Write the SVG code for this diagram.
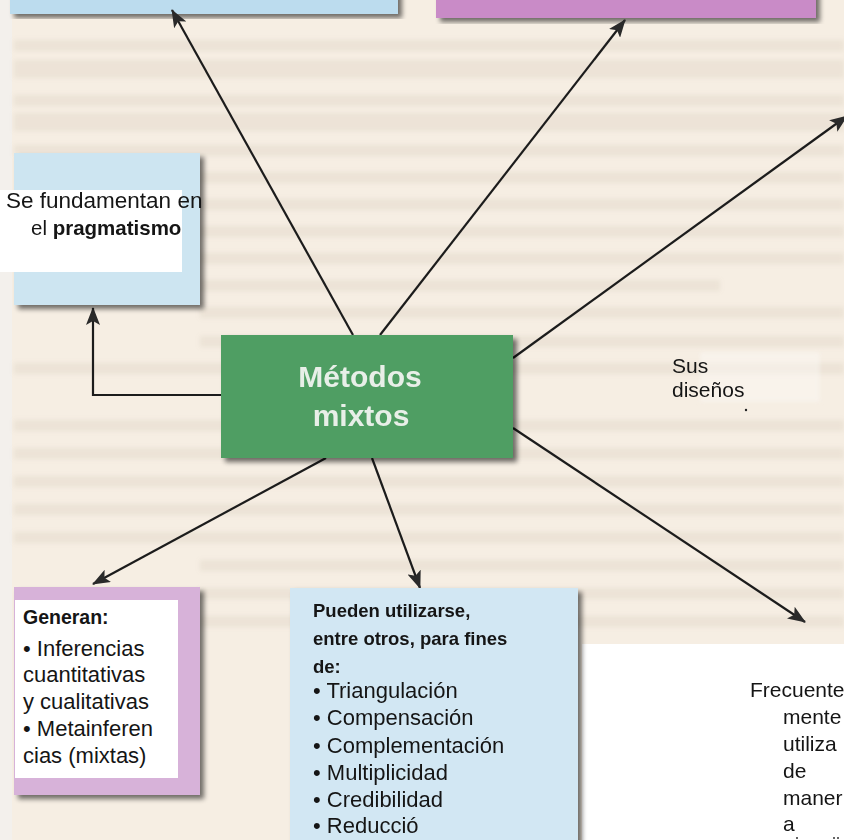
<svg xmlns="http://www.w3.org/2000/svg" width="844" height="840" viewBox="0 0 844 840">
<defs>
<style>
.t{font-family:"Liberation Sans",Arial,sans-serif;fill:#151515}
.b{font-weight:bold}
.line{stroke:#1c1c1c;stroke-width:2.2;fill:none}
.bg{fill:#cdbfae;opacity:0.22}
</style>
<filter id="sh" x="-10%" y="-10%" width="130%" height="130%">
<feGaussianBlur in="SourceAlpha" stdDeviation="2.5"/>
<feOffset dx="4" dy="4" result="o"/>
<feComponentTransfer><feFuncA type="linear" slope="0.55"/></feComponentTransfer>
<feMerge><feMergeNode/><feMergeNode in="SourceGraphic"/></feMerge>
</filter>
<filter id="soft" x="-5%" y="-50%" width="110%" height="200%">
<feGaussianBlur stdDeviation="2"/>
</filter>
<marker id="ah" viewBox="0 0 18 14" refX="17" refY="7" markerWidth="18" markerHeight="14" markerUnits="userSpaceOnUse" orient="auto">
<path d="M0,0 L18,7 L0,14 L4,7 Z" fill="#2a2a2a"/>
</marker>
</defs>
<rect width="844" height="840" fill="#f6eee3"/>
<rect x="0" y="0" width="12" height="840" fill="#f3f0ec"/>
<g id="page-lines" filter="url(#soft)">
<rect class="bg" x="14" y="40" width="830" height="11"/>
<rect class="bg" x="14" y="60" width="830" height="18" opacity="0.3"/>
<rect class="bg" x="14" y="95" width="830" height="11"/>
<rect class="bg" x="14" y="113" width="830" height="18" opacity="0.3"/>
<rect class="bg" x="14" y="145" width="830" height="11"/>
<rect class="bg" x="200" y="172" width="644" height="11"/>
<rect class="bg" x="200" y="199" width="644" height="11"/>
<rect class="bg" x="200" y="226" width="644" height="11"/>
<rect class="bg" x="200" y="253" width="644" height="11"/>
<rect class="bg" x="200" y="280" width="520" height="11"/>
<rect class="bg" x="200" y="307" width="644" height="11"/>
<rect class="bg" x="200" y="336" width="644" height="11"/>
<rect class="bg" x="14" y="363" width="830" height="11"/>
<rect class="bg" x="14" y="420" width="830" height="11"/>
<rect class="bg" x="14" y="448" width="830" height="11"/>
<rect class="bg" x="14" y="476" width="830" height="11"/>
<rect class="bg" x="14" y="504" width="830" height="11"/>
<rect class="bg" x="14" y="532" width="830" height="11"/>
<rect class="bg" x="200" y="560" width="644" height="11"/>
<rect class="bg" x="200" y="588" width="644" height="11"/>
<rect class="bg" x="200" y="616" width="644" height="11"/>
</g>
<rect x="582" y="644" width="262" height="196" fill="#ffffff"/>
<rect x="700" y="352" width="120" height="50" fill="#fbf8f4" opacity="0.5" filter="url(#soft)"/>

<g id="top-left-box">
<rect x="10" y="-10" width="388" height="24" fill="#bcdcee" filter="url(#sh)"/>
</g>
<g id="top-right-box">
<rect x="436" y="-10" width="380" height="28" fill="#c98bc7" filter="url(#sh)"/>
</g>

<g id="connectors">
<line class="line" x1="353" y1="335" x2="172" y2="10" marker-end="url(#ah)"/>
<line class="line" x1="380" y1="335" x2="625" y2="20" marker-end="url(#ah)"/>
<line class="line" x1="513" y1="358" x2="847" y2="116" marker-end="url(#ah)"/>
<polyline class="line" points="221,395 93,395 93,308" marker-end="url(#ah)"/>
<line class="line" x1="513" y1="428" x2="805" y2="622" marker-end="url(#ah)"/>
<line class="line" x1="326" y1="458" x2="93" y2="584" marker-end="url(#ah)"/>
<line class="line" x1="372" y1="458" x2="420" y2="588" marker-end="url(#ah)"/>
</g>

<g id="pragmatismo">
<rect x="14" y="153" width="186" height="152" fill="#cde5f1" filter="url(#sh)"/>
<rect x="0" y="190" width="182" height="82" fill="#ffffff"/>
<text class="t" x="6" y="208" font-size="22.5">Se fundamentan en</text>
<text class="t" x="31" y="235" font-size="20.5">el <tspan class="b">pragmatismo</tspan></text>
</g>

<g id="metodos-mixtos">
<rect x="221" y="335" width="292" height="123" fill="#4f9e64" filter="url(#sh)"/>
<text class="t b" x="360" y="387" font-size="30" text-anchor="middle" style="fill:#e8efe8">Métodos</text>
<text class="t b" x="361" y="426" font-size="30" text-anchor="middle" style="fill:#e8efe8">mixtos</text>
</g>

<g id="sus-disenos">
<text class="t" x="672" y="373" font-size="21">Sus</text>
<text class="t" x="672" y="397" font-size="21">diseños</text>
<circle cx="746" cy="410" r="1.2" fill="#222"/>
</g>

<g id="generan">
<rect x="14" y="587" width="186" height="208" fill="#d7b2d9" filter="url(#sh)"/>
<rect x="15" y="600" width="163" height="178" fill="#ffffff"/>
<text class="t b" x="23" y="624" font-size="19.5">Generan:</text>
<text class="t" x="23" y="656" font-size="22">• Inferencias</text>
<text class="t" x="23" y="682" font-size="22">cuantitativas</text>
<text class="t" x="23" y="709" font-size="22">y cualitativas</text>
<text class="t" x="23" y="736" font-size="22">• Metainferen</text>
<text class="t" x="23" y="763" font-size="22">cias (mixtas)</text>
</g>

<g id="pueden">
<rect x="290" y="588" width="288" height="262" fill="#d2e7f3" filter="url(#sh)"/>
<text class="t b" x="313" y="617" font-size="18.5">Pueden utilizarse,</text>
<text class="t b" x="313" y="645" font-size="18.5">entre otros, para fines</text>
<text class="t b" x="313" y="673" font-size="18.5">de:</text>
<text class="t" x="313" y="698" font-size="22">• Triangulación</text>
<text class="t" x="313" y="725" font-size="22">• Compensación</text>
<text class="t" x="313" y="753" font-size="22">• Complementación</text>
<text class="t" x="313" y="780" font-size="22">• Multiplicidad</text>
<text class="t" x="313" y="807" font-size="22">• Credibilidad</text>
<text class="t" x="313" y="833" font-size="22">• Reducció</text>
</g>

<g id="frecuentemente">
<text class="t" x="750" y="697" font-size="21">Frecuente</text>
<text class="t" x="783" y="724" font-size="21">mente</text>
<text class="t" x="783" y="751" font-size="21">utiliza</text>
<text class="t" x="783" y="778" font-size="21">de</text>
<text class="t" x="783" y="805" font-size="21">maner</text>
<text class="t" x="783" y="831" font-size="21">a</text>
<circle cx="797" cy="838" r="1" fill="#333"/>
<circle cx="834" cy="838" r="1" fill="#333"/>
<circle cx="838" cy="838" r="1" fill="#333"/>
</g>
</svg>
